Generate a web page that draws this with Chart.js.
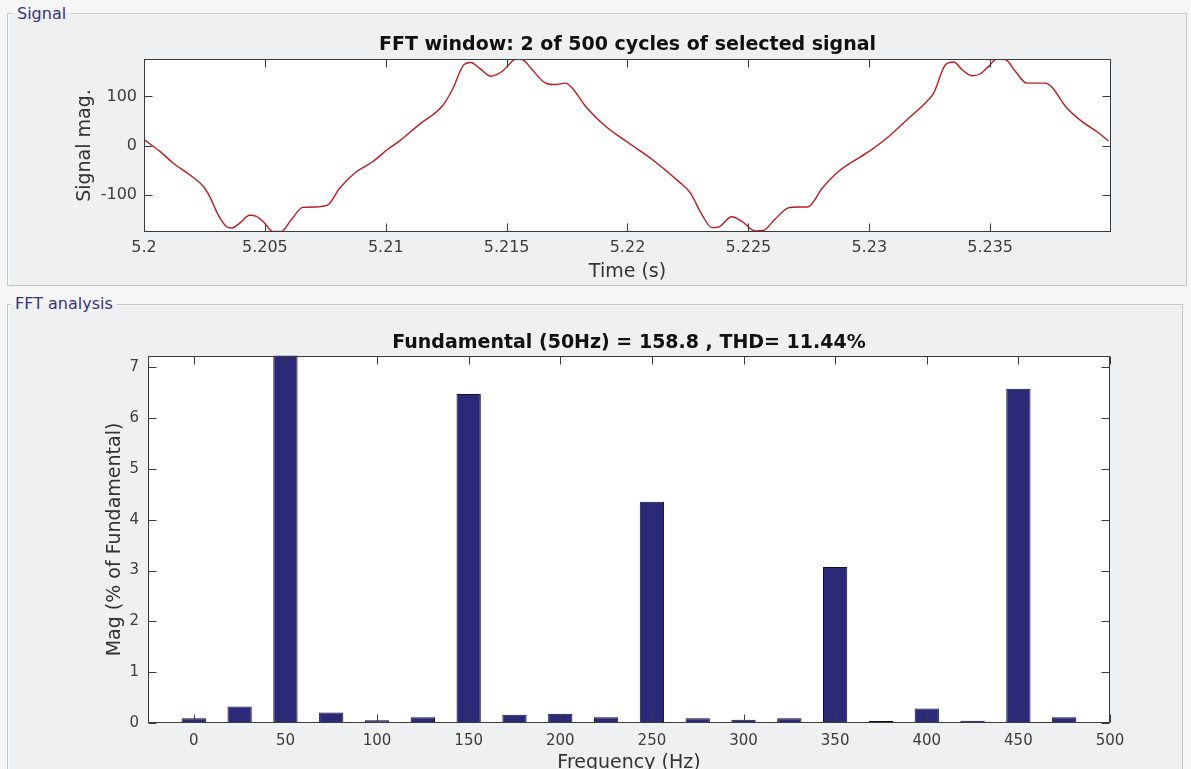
<!DOCTYPE html>
<html><head><meta charset="utf-8">
<script src="https://cdn.jsdelivr.net/npm/chart.js@4.4.1/dist/chart.umd.min.js"></script>
<style>
html,body{margin:0;padding:0;width:1191px;height:769px;overflow:hidden;background:#f6f6f7;font-family:'DejaVu Sans',sans-serif;}
.panel{position:absolute;border:1px solid #c4c6c8;background:#eef0f1;box-shadow:inset 1px 1px 0 #fbfbfb;}
.lbl{position:absolute;font-size:16px;line-height:16px;color:#34347a;padding:0 4px 0 4px;white-space:nowrap;}
canvas{position:absolute;left:0;}
</style></head><body>
<div class="panel" style="left:7px;top:13px;width:1178px;height:271px"></div>
<span class="lbl" style="left:13px;top:6px;background:linear-gradient(#f6f6f7 0 7px,#eef0f1 7px)">Signal</span>
<div class="panel" style="left:7px;top:304px;width:1174px;height:500px"></div>
<span class="lbl" style="left:11px;top:296px;background:linear-gradient(#f6f6f7 0 8px,#eef0f1 8px)">FFT analysis</span>
<canvas id="sig" width="1191" height="290" style="top:0"></canvas>
<canvas id="fft" width="1191" height="500" style="top:290px"></canvas>
<script>
// ---- Signal panel data ----
const sigTitle = 'FFT window: 2 of 500 cycles of selected signal';
const sigTime = [5.2,5.20066,5.20121,5.2019,5.20245,5.20272,5.20307,5.20341,5.20362,5.20396,5.20437,5.20465,5.20499,5.20533,5.20568,5.20609,5.20657,5.20712,5.2076,5.20809,5.20877,5.20946,5.21015,5.21056,5.21139,5.21235,5.21276,5.21324,5.21352,5.21386,5.21434,5.21482,5.2151,5.21537,5.21565,5.21606,5.21661,5.21702,5.21744,5.21771,5.21826,5.21909,5.22005,5.22101,5.22211,5.22259,5.22307,5.22349,5.22376,5.22431,5.22472,5.22528,5.22562,5.2261,5.22665,5.22706,5.22745,5.22807,5.22875,5.22999,5.23082,5.23164,5.23233,5.23267,5.23316,5.2335,5.23384,5.23425,5.2346,5.23494,5.23528,5.23563,5.23604,5.23652,5.23728,5.23755,5.23811,5.23879,5.23948,5.2399];
const sigValue = [12,-12,-36,-60,-83,-104,-141,-165,-168,-158,-142,-144,-158,-175,-175,-151,-126,-125,-121,-87,-54,-33,-5,9,43,81,114,165,169,158,141,151,165,176,175,154,127,124,127,117,80,39,5,-28,-73,-96,-140,-167,-166,-145,-154,-174,-173,-150,-127,-125,-125,-86,-52,-12,19,56,87,107,165,170,154,142,146,161,176,175,151,127,127,119,80,49,26,9];
const timeTicks = [5.2,5.205,5.21,5.215,5.22,5.225,5.23,5.235];
const timeTickLabels = ['5.2','5.205','5.21','5.215','5.22','5.225','5.23','5.235'];
const sigTicks = [-100,0,100];
const sigTickLabels = ['-100','0','100'];

// ---- FFT panel data ----
const fftTitle = 'Fundamental (50Hz) = 158.8 , THD= 11.44%';
const freqHz = [0,25,50,75,100,125,150,175,200,225,250,275,300,325,350,375,400,425,450,475];
const magPct = [0.1,0.33,100,0.21,0.06,0.12,6.47,0.17,0.19,0.12,4.35,0.1,0.07,0.1,3.07,0.045,0.29,0.05,6.57,0.12];
const freqTicks = [0,50,100,150,200,250,300,350,400,450,500];
const freqTickLabels = ['0','50','100','150','200','250','300','350','400','450','500'];
const magTicks = [0,1,2,3,4,5,6,7];
const magTickLabels = ['0','1','2','3','4','5','6','7'];

Chart.defaults.font.family = "'DejaVu Sans', sans-serif";

const matlabAxes = {
  id: 'matlabAxes',
  beforeDraw(chart) {
    const {ctx, chartArea: a} = chart;
    ctx.save();
    ctx.fillStyle = '#ffffff';
    ctx.fillRect(a.left, a.top, a.right - a.left, a.bottom - a.top);
    ctx.restore();
  },
  afterDraw(chart, args, o) {
    const {ctx, chartArea: a, scales} = chart;
    const L = Math.round(a.left) + 0.5, R = Math.round(a.right) - 0.5;
    const T = Math.round(a.top) + 0.5, B = Math.round(a.bottom) - 0.5;
    ctx.save();
    ctx.strokeStyle = '#3a3a3a';
    ctx.lineWidth = 1;
    ctx.beginPath();
    scales.x.ticks.forEach(t => {
      const p = Math.round(scales.x.getPixelForValue(t.value)) + 0.5;
      ctx.moveTo(p, B); ctx.lineTo(p, B - o.tickLen);
      ctx.moveTo(p, T); ctx.lineTo(p, T + o.tickLen);
    });
    scales.y.ticks.forEach(t => {
      const p = Math.round(scales.y.getPixelForValue(t.value)) + 0.5;
      ctx.moveTo(L, p); ctx.lineTo(L + o.tickLen, p);
      ctx.moveTo(R, p); ctx.lineTo(R - o.tickLen, p);
    });
    ctx.stroke();
    ctx.strokeRect(L, T, R - L, B - T);
    ctx.fillStyle = '#111';
    ctx.font = "bold 19px 'DejaVu Sans'";
    ctx.textAlign = 'center';
    ctx.textBaseline = 'alphabetic';
    ctx.fillText(o.title, (a.left + a.right) / 2, o.titleBaseline);
    ctx.restore();
  }
};

function axisCommon(tickVals, tickLabels, size, pad, fitFn) {
  return {
    afterBuildTicks: s => { s.ticks = tickVals.map(v => ({value: v})); },
    afterFit: fitFn,
    grid: {display: false, drawTicks: false},
    border: {display: false},
    ticks: {padding: pad, font: {size: size}, color: '#3c3c3c', autoSkip: false, maxRotation: 0, minRotation: 0,
            callback: (v, i) => tickLabels[i]}
  };
}

new Chart(document.getElementById('sig'), {
  type: 'line',
  data: {datasets: [{
    data: sigTime.map((t, i) => ({x: t, y: sigValue[i]})),
    borderColor: '#bb1a1f', borderWidth: 1.4, pointRadius: 0, cubicInterpolationMode: 'monotone', fill: false, clip: 0
  }]},
  options: {
    responsive: false, animation: false, devicePixelRatio: 1,
    layout: {padding: {top: 59, right: 80, left: 0, bottom: 0}},
    plugins: {legend: {display: false}, tooltip: {enabled: false},
      matlabAxes: {title: sigTitle, titleBaseline: 50, tickLen: 8}},
    scales: {
      x: Object.assign({type: 'linear', min: 5.2, max: 5.24,
        title: {display: true, text: 'Time (s)', font: {size: 19}, color: '#333', padding: {top: 0, bottom: 7}}},
        axisCommon(timeTicks, timeTickLabels, 16, 6, s => { s.height = 58; })),
      y: Object.assign({type: 'linear', min: -176, max: 176,
        title: {display: true, text: 'Signal mag.', font: {size: 19}, color: '#333', padding: {top: 73.6, bottom: 0}}},
        axisCommon(sigTicks, sigTickLabels, 16, 7, s => { s.width = 144; }))
    }
  },
  plugins: [matlabAxes]
});

new Chart(document.getElementById('fft'), {
  type: 'bar',
  data: {datasets: [{
    data: freqHz.map((f, i) => ({x: f, y: magPct[i]})),
    backgroundColor: '#2a2a78', borderColor: '#0e0e34', borderWidth: 1, borderSkipped: false,
    barPercentage: 0.53, categoryPercentage: 1, clip: 0
  }]},
  options: {
    responsive: false, animation: false, devicePixelRatio: 1,
    layout: {padding: {top: 65.7, right: 81, left: 0, bottom: 0}},
    plugins: {legend: {display: false}, tooltip: {enabled: false},
      matlabAxes: {title: fftTitle, titleBaseline: 58, tickLen: 8}},
    scales: {
      x: Object.assign({type: 'linear', min: -25, max: 500, offset: false,
        title: {display: true, text: 'Frequency (Hz)', font: {size: 19}, color: '#333', padding: {top: 0, bottom: 16}}},
        axisCommon(freqTicks, freqTickLabels, 15, 9, s => { s.height = 66.7; })),
      y: Object.assign({type: 'linear', min: 0, max: 7.22,
        title: {display: true, text: 'Mag (% of Fundamental)', font: {size: 19}, color: '#333', padding: {top: 103.6, bottom: 0}}},
        axisCommon(magTicks, magTickLabels, 15, 9, s => { s.width = 148; }))
    }
  },
  plugins: [matlabAxes]
});
</script>
</body></html>
